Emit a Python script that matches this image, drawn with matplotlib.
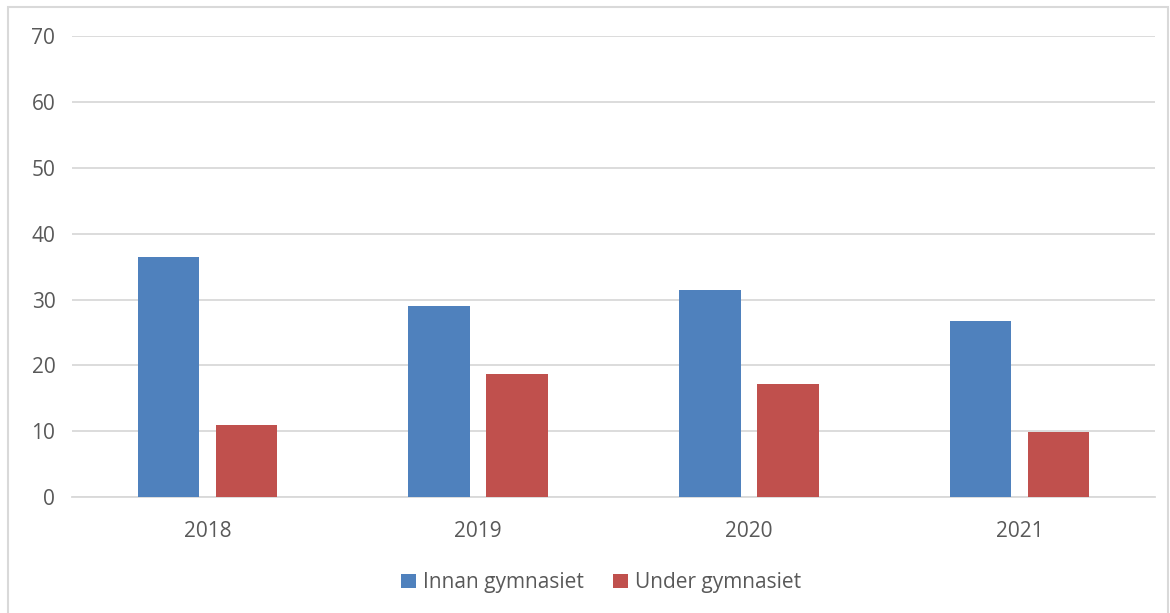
import numpy as np
import matplotlib.pyplot as plt
from matplotlib.patches import Rectangle

years = ["2018", "2019", "2020", "2021"]
innan = [36.4, 29.0, 31.4, 26.7]
under = [10.9, 18.7, 17.2, 9.9]
yticks = [0, 10, 20, 30, 40, 50, 60, 70]

plt.rcParams['font.family'] = ['Open Sans', 'DejaVu Sans']

fig = plt.figure(figsize=(11.7, 6.13), dpi=100)
ax = fig.add_axes([72/1170, 0.189, 1083/1170, 0.752])

# grey frame around the chart
fig.patches.append(Rectangle((8/1170, -0.05), 1160/1170, 1 - 7/613 + 0.05,
                             transform=fig.transFigure, fill=False,
                             edgecolor="#d9d9d9", linewidth=1.5))

x = np.arange(len(years))
w = 0.227
gap = 0.061
ax.bar(x - (w + gap) / 2, innan, w, color="#4f81bd", label="Innan gymnasiet", zorder=3)
ax.bar(x + (w + gap) / 2, under, w, color="#c0504d", label="Under gymnasiet", zorder=3)

ax.set_xlim(-0.5, len(years) - 0.5)
ax.set_ylim(0, 70)
ax.set_yticks(yticks)
ax.set_xticks(x)
ax.set_xticklabels(years)
ax.grid(axis="y", color="#d9d9d9", linewidth=1.3, zorder=0)
for s in ["top", "right", "left"]:
    ax.spines[s].set_visible(False)
ax.spines["bottom"].set_color("#d9d9d9")
ax.spines["bottom"].set_linewidth(1.3)
ax.tick_params(axis="both", length=0, labelsize=15, labelcolor="#595959")
ax.tick_params(axis="x", pad=17)
ax.tick_params(axis="y", pad=12)

leg = fig.legend(loc="center", bbox_to_anchor=(0.514, 0.049), ncol=2, frameon=False,
                 fontsize=15, handlelength=0.7, handleheight=0.7,
                 columnspacing=1.4, handletextpad=0.35)
for t in leg.get_texts():
    t.set_color("#595959")

fig.savefig("out.png", dpi=100)
